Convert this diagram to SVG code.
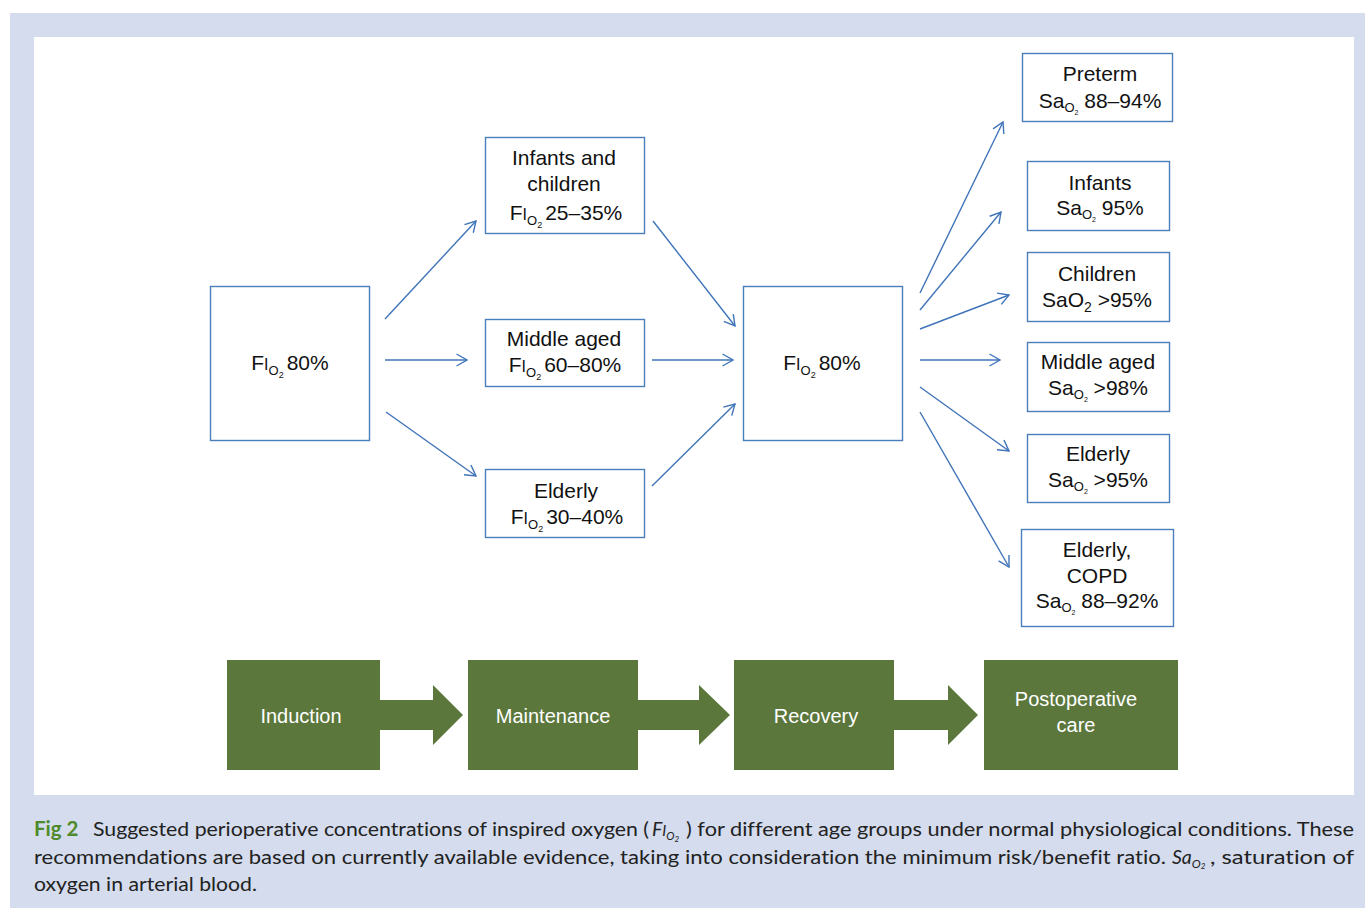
<svg xmlns="http://www.w3.org/2000/svg" width="1365" height="908" viewBox="0 0 1365 908">
<defs>
<style>
.box{fill:#fff;stroke:#4a7ebb;stroke-width:1.4}
.t{font-family:"Liberation Sans",Arial,sans-serif;font-size:21px;fill:#111;text-anchor:middle}
.w{font-family:"Liberation Sans",Arial,sans-serif;font-size:20px;fill:#fff;text-anchor:middle}
.g{fill:#5b773c}
.c{font-family:Lato,"Open Sans",sans-serif;font-size:19.5px;fill:#222;font-variant-ligatures:none}
.ln{stroke:#3f74b9;stroke-width:1.4;fill:none;marker-end:url(#ah)}
</style>
<marker id="ah" markerUnits="userSpaceOnUse" markerWidth="14" markerHeight="14" viewBox="0 0 14 14" refX="12.5" refY="7" orient="auto">
<path d="M2,1 L12.5,7 L2,13" fill="none" stroke="#3f74b9" stroke-width="1.4"/>
</marker>
</defs>
<rect x="10" y="13" width="1355" height="895" fill="#d4dcee"/>
<rect x="34" y="37" width="1320" height="758" fill="#fff"/>

<g id="connectors">
<line class="ln" x1="385" y1="319" x2="476" y2="221"/>
<line class="ln" x1="385" y1="360" x2="467" y2="360"/>
<line class="ln" x1="386" y1="412" x2="476" y2="476"/>
<line class="ln" x1="653" y1="221" x2="735" y2="326"/>
<line class="ln" x1="652" y1="360" x2="733" y2="360"/>
<line class="ln" x1="652" y1="486" x2="735" y2="404"/>
<line class="ln" x1="920" y1="293" x2="1003" y2="122"/>
<line class="ln" x1="920" y1="310" x2="1001" y2="212"/>
<line class="ln" x1="920" y1="329" x2="1009" y2="295"/>
<line class="ln" x1="920" y1="360" x2="1000" y2="360"/>
<line class="ln" x1="920" y1="387" x2="1009" y2="451"/>
<line class="ln" x1="920" y1="412" x2="1009" y2="567"/>
</g>

<g id="n-fio2-start">
<rect class="box" x="210.5" y="286.5" width="159" height="154"/>
<text class="t" x="290" y="370">F<tspan font-size="16">I</tspan><tspan font-size="13" dy="5">O</tspan><tspan font-size="9" dy="3">2</tspan><tspan dy="-8" dx="3">80%</tspan></text>
</g>
<g id="n-infants-children">
<rect class="box" x="485.5" y="137.5" width="159" height="96"/>
<text class="t" x="564" y="165">Infants and</text>
<text class="t" x="564" y="191">children</text>
<text class="t" x="566" y="220">F<tspan font-size="16">I</tspan><tspan font-size="13" dy="5">O</tspan><tspan font-size="9" dy="3">2</tspan><tspan dy="-8" dx="3">25–35%</tspan></text>
</g>
<g id="n-middle-aged-f">
<rect class="box" x="485.5" y="319.5" width="159" height="67"/>
<text class="t" x="564" y="346">Middle aged</text>
<text class="t" x="565" y="372">F<tspan font-size="16">I</tspan><tspan font-size="13" dy="5">O</tspan><tspan font-size="9" dy="3">2</tspan><tspan dy="-8" dx="3">60–80%</tspan></text>
</g>
<g id="n-elderly-f">
<rect class="box" x="485.5" y="469.5" width="159" height="68"/>
<text class="t" x="566" y="498">Elderly</text>
<text class="t" x="567" y="524">F<tspan font-size="16">I</tspan><tspan font-size="13" dy="5">O</tspan><tspan font-size="9" dy="3">2</tspan><tspan dy="-8" dx="3">30–40%</tspan></text>
</g>
<g id="n-fio2-center">
<rect class="box" x="743.5" y="286.5" width="159" height="154"/>
<text class="t" x="822" y="370">F<tspan font-size="16">I</tspan><tspan font-size="13" dy="5">O</tspan><tspan font-size="9" dy="3">2</tspan><tspan dy="-8" dx="3">80%</tspan></text>
</g>

<g id="n-preterm">
<rect class="box" x="1022.5" y="53.5" width="150" height="68"/>
<text class="t" x="1100" y="81">Preterm</text>
<text class="t" x="1100" y="108">Sa<tspan font-size="13" dy="4">O</tspan><tspan font-size="7" dy="3">2</tspan><tspan dy="-7"> 88–94%</tspan></text>
</g>
<g id="n-infants">
<rect class="box" x="1027.5" y="161.5" width="142" height="69"/>
<text class="t" x="1100" y="190">Infants</text>
<text class="t" x="1100" y="215">Sa<tspan font-size="13" dy="4">O</tspan><tspan font-size="7" dy="3">2</tspan><tspan dy="-7"> 95%</tspan></text>
</g>
<g id="n-children">
<rect class="box" x="1027.5" y="252.5" width="142" height="69"/>
<text class="t" x="1097" y="281">Children</text>
<text class="t" x="1097" y="307">SaO<tspan font-size="14" dy="5">2</tspan><tspan dy="-5"> &gt;95%</tspan></text>
</g>
<g id="n-middle-aged-s">
<rect class="box" x="1027.5" y="342.5" width="142" height="69"/>
<text class="t" x="1098" y="369">Middle aged</text>
<text class="t" x="1098" y="395">Sa<tspan font-size="13" dy="4">O</tspan><tspan font-size="7" dy="3">2</tspan><tspan dy="-7"> &gt;98%</tspan></text>
</g>
<g id="n-elderly-s">
<rect class="box" x="1027.5" y="434.5" width="142" height="68"/>
<text class="t" x="1098" y="461">Elderly</text>
<text class="t" x="1098" y="487">Sa<tspan font-size="13" dy="4">O</tspan><tspan font-size="7" dy="3">2</tspan><tspan dy="-7"> &gt;95%</tspan></text>
</g>
<g id="n-elderly-copd">
<rect class="box" x="1021.5" y="529.5" width="152" height="97"/>
<text class="t" x="1097" y="557">Elderly,</text>
<text class="t" x="1097" y="583">COPD</text>
<text class="t" x="1097" y="608">Sa<tspan font-size="13" dy="4">O</tspan><tspan font-size="7" dy="3">2</tspan><tspan dy="-7"> 88–92%</tspan></text>
</g>

<g id="n-induction">
<rect class="g" x="227" y="660" width="153" height="110"/>
<path class="g" d="M380,700 H433 V685 L463,715 L433,745 V730 H380 Z"/>
<text class="w" x="301" y="723">Induction</text>
</g>
<g id="n-maintenance">
<rect class="g" x="468" y="660" width="170" height="110"/>
<path class="g" d="M638,700 H699 V685 L730,715 L699,745 V730 H638 Z"/>
<text class="w" x="553" y="723">Maintenance</text>
</g>
<g id="n-recovery">
<rect class="g" x="734" y="660" width="160" height="110"/>
<path class="g" d="M894,700 H948 V685 L978,715 L948,745 V730 H894 Z"/>
<text class="w" x="816" y="723">Recovery</text>
</g>
<g id="n-postop">
<rect class="g" x="984" y="660" width="194" height="110"/>
<text class="w" x="1076" y="706">Postoperative</text>
<text class="w" x="1076" y="732">care</text>
</g>

<g id="caption">
<text class="c" x="34" y="836" font-weight="bold" style="fill:#4f8a2b;font-size:20.5px">Fig 2</text>
<text class="c" x="93" y="836" textLength="556" lengthAdjust="spacingAndGlyphs">Suggested perioperative concentrations of inspired oxygen (</text>
<text class="c" x="652" y="836" font-style="italic">F<tspan font-size="15">I</tspan><tspan font-size="11" dy="4">O</tspan><tspan font-size="8" dy="2">2</tspan></text>
<text class="c" x="686" y="836" textLength="668" lengthAdjust="spacingAndGlyphs">) for different age groups under normal physiological conditions. These</text>
<text class="c" x="34" y="864" textLength="1132" lengthAdjust="spacingAndGlyphs">recommendations are based on currently available evidence, taking into consideration the minimum risk/benefit ratio.</text>
<text class="c" x="1172" y="864" font-style="italic">Sa<tspan font-size="12" dy="4">O</tspan><tspan font-size="8" dy="1">2</tspan></text>
<text class="c" x="1210" y="864" textLength="144" lengthAdjust="spacingAndGlyphs">, saturation of</text>
<text class="c" x="34" y="891" textLength="223" lengthAdjust="spacingAndGlyphs">oxygen in arterial blood.</text>
</g>
</svg>
